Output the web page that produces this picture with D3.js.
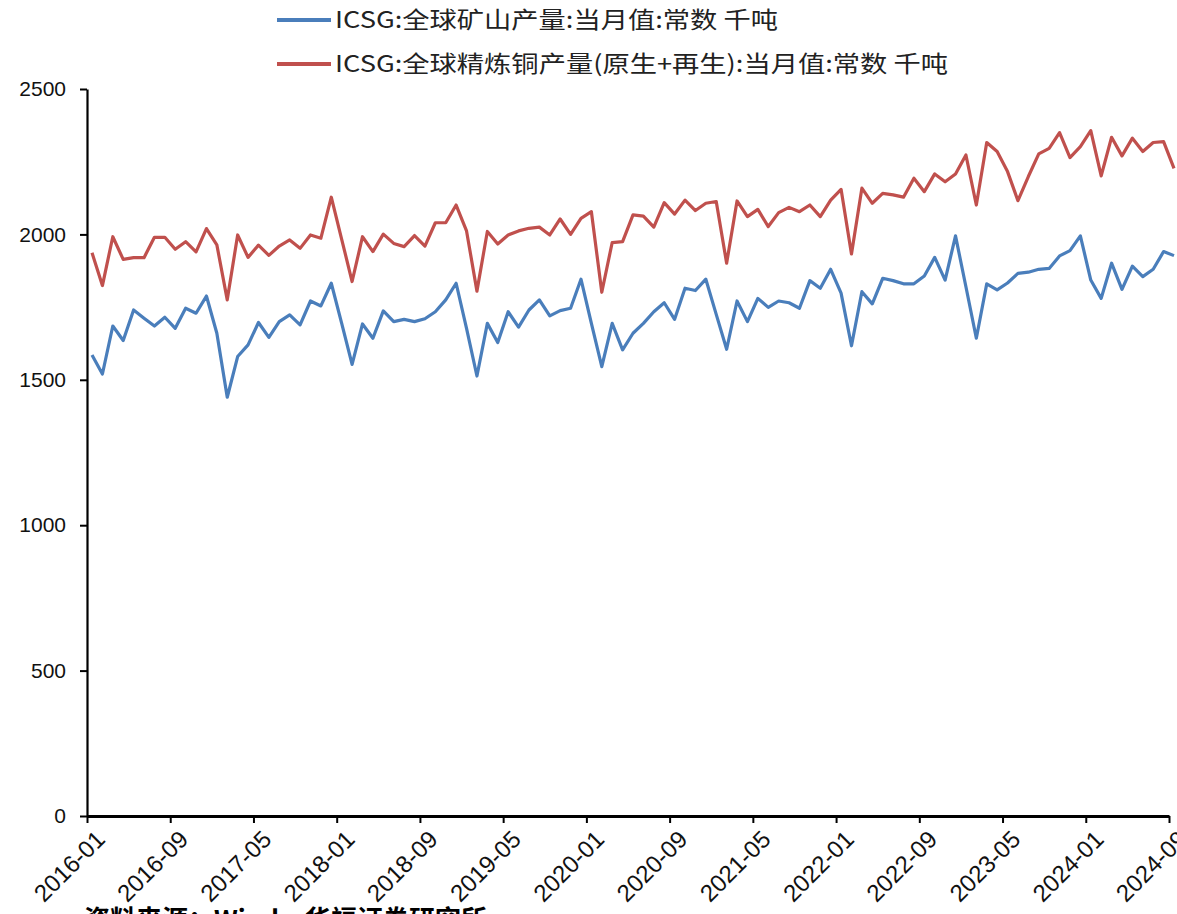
<!DOCTYPE html>
<html><head><meta charset="utf-8">
<script src="https://cdn.jsdelivr.net/npm/d3@7/dist/d3.min.js"></script>
<style>
body{margin:0;background:#fff;}
svg{display:block;}
</style></head>
<body>
<svg id="chart" width="1177" height="914"></svg>
<script>
const months = d3.utcMonths(new Date(Date.UTC(2016,0,1)), new Date(Date.UTC(2024,9,1))).map(d3.utcFormat("%Y-%m"));
const tickLabels = ["2016-01","2016-09","2017-05","2018-01","2018-09","2019-05","2020-01","2020-09","2021-05","2022-01","2022-09","2023-05","2024-01","2024-09"];
const yTicks = [0,500,1000,1500,2000,2500];
const seriesNames = ["ICSG:全球矿山产量:当月值:常数 千吨","ICSG:全球精炼铜产量(原生+再生):当月值:常数 千吨"];
const mine = [1585,1520,1685,1635,1740,1712,1685,1715,1677,1746,1729,1788,1660,1440,1580,1620,1697,1646,1700,1723,
1689,1771,1754,1832,1694,1553,1692,1643,1737,1700,1708,1700,1710,1734,1775,1832,1677,1513,1694,1628,
1734,1681,1740,1775,1720,1738,1746,1846,1694,1545,1694,1603,1660,1694,1734,1765,1708,1815,1807,1846,
1725,1605,1771,1700,1780,1749,1771,1765,1746,1841,1815,1880,1798,1617,1803,1761,1849,1841,1830,1830,
1857,1921,1843,1995,1820,1643,1830,1809,1833,1866,1870,1880,1883,1926,1944,1995,1843,1780,1901,1811,
1891,1855,1880,1941,1927];
const refined = [1937,1824,1992,1914,1920,1920,1990,1990,1949,1975,1940,2020,1964,1775,1998,1921,1963,1928,1960,1981,
1952,1998,1987,2128,1983,1838,1992,1941,2001,1969,1958,1996,1960,2040,2040,2101,2012,1805,2010,1967,
1998,2012,2021,2025,1998,2053,2000,2055,2078,1801,1972,1975,2067,2063,2025,2109,2070,2118,2082,2107,
2113,1901,2115,2061,2086,2027,2075,2093,2078,2101,2061,2118,2155,1933,2159,2107,2141,2136,2128,2193,
2147,2208,2181,2208,2273,2101,2316,2285,2216,2116,2199,2277,2296,2350,2264,2302,2357,2201,2334,2270,
2331,2285,2316,2319,2227];
const colors = ["#4a7ebb","#c0504d"];

const svg = d3.select("#chart");
const xTick = d3.scalePoint().domain(months).range([87,1169]);
const xData = d3.scalePoint().domain(months).range([92,1174]);
const y = d3.scaleLinear().domain([0,2500]).range([816,89]);

// y axis
const yAxis = svg.append("g").attr("transform","translate(87,0)")
  .call(d3.axisLeft(y).tickValues(yTicks).tickFormat(d3.format("d")).tickSize(7).tickSizeOuter(0).tickPadding(14));
yAxis.select(".domain").attr("stroke","#000").attr("stroke-width",2.2);
yAxis.selectAll(".tick line").attr("stroke","#000").attr("stroke-width",2);
yAxis.selectAll("text").attr("font-family","'Liberation Sans',Arial,sans-serif").attr("font-size",21).attr("fill","#111");

// x axis
const xAxis = svg.append("g").attr("transform","translate(0,816)")
  .call(d3.axisBottom(xTick).tickValues(tickLabels).tickSize(7).tickSizeOuter(0).tickPadding(4));
xAxis.select(".domain").attr("stroke","#000").attr("stroke-width",3);
xAxis.selectAll(".tick line").attr("stroke","#000").attr("stroke-width",2);
xAxis.selectAll("text").attr("font-family","'Liberation Sans',Arial,sans-serif").attr("font-size",24).attr("fill","#111")
  .attr("text-anchor","end").attr("dy","0.3em")
  .attr("transform","translate(6,12) rotate(-45)");

// lines
const line = d3.line().x((d,i)=>xData(months[i])).y(d=>y(d));
[mine, refined].forEach((s,k)=>{
  svg.append("path").datum(s).attr("d",line).attr("fill","none")
    .attr("stroke",colors[k]).attr("stroke-width",3.2).attr("stroke-linejoin","round");
});

// legend
const legY = [20,64];
const legW = [443,613];
seriesNames.forEach((n,k)=>{
  svg.append("line").attr("x1",277).attr("x2",331).attr("y1",legY[k]).attr("y2",legY[k])
    .attr("stroke",colors[k]).attr("stroke-width",4);
  svg.append("text").attr("x",335).attr("y",legY[k]).attr("dy","0.36em")
    .attr("font-family","'Noto Sans CJK SC',sans-serif").attr("font-size",23).attr("fill","#222")
    .attr("textLength",legW[k]).attr("lengthAdjust","spacingAndGlyphs").text(n);
});

// source note (clipped at bottom, as in the reference)
svg.append("text").attr("x",84).attr("y",929)
  .attr("font-family","'Noto Sans CJK SC',sans-serif").attr("font-weight","bold").attr("font-size",26)
  .attr("fill","#000").text("资料来源：Wind，华福证券研究所");
</script>
</body></html>
